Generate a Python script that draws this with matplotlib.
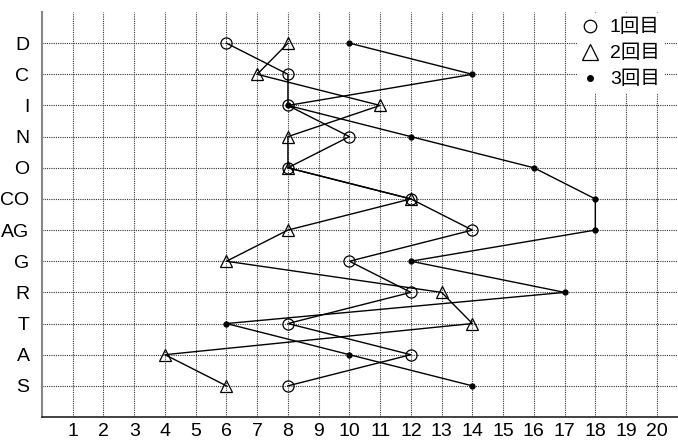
import matplotlib
matplotlib.use("Agg")
import matplotlib.pyplot as plt
from matplotlib.lines import Line2D

plt.rcParams['font.family'] = ['Liberation Sans', 'Noto Sans CJK JP', 'DejaVu Sans']

# categories from top to bottom
categories = ["D", "C", "I", "N", "O", "CO", "AG", "G", "R", "T", "A", "S"]
xticks = list(range(1, 21))

first = [6, 8, 8, 10, 8, 12, 14, 10, 12, 8, 12, 8]     # 1回目
second = [8, 7, 11, 8, 8, 12, 8, 6, 13, 14, 4, 6]      # 2回目
third = [10, 14, 8, 12, 16, 18, 18, 12, 17, 6, 10, 14]  # 3回目

ypos = [len(categories) - i for i in range(len(categories))]

fig = plt.figure(figsize=(6.78, 4.4), dpi=100)
ax = fig.add_axes([42 / 678, 23 / 440, 636 / 678, 405 / 440])

ax.plot(third, ypos, color='black', lw=1.0, marker='o', ms=3.5, zorder=3)
ax.plot(first, ypos, color='black', lw=1.0, marker='o', ms=8,
        mfc='none', mec='black', mew=0.9, zorder=3)
ax.plot(second, ypos, color='black', lw=1.0, marker='^', ms=9,
        mfc='none', mec='black', mew=0.9, zorder=3)

ax.set_xlim(0, 636 / 30.74)
ax.set_ylim(0, 13)
ax.set_xticks(xticks)
ax.set_xticklabels([str(x) for x in xticks], fontsize=14)
ax.set_yticks(ypos)
ax.set_yticklabels(categories, fontsize=14)
ax.tick_params(axis='x', length=0, pad=4)
ax.tick_params(axis='y', length=0, pad=9)

ax.grid(True, linestyle=(0, (1, 1)), color='#333333', lw=0.8)
ax.set_axisbelow(True)
for s in ['top', 'right']:
    ax.spines[s].set_visible(False)
ax.spines['left'].set_color('#888888')
ax.spines['left'].set_linewidth(1.5)
ax.spines['bottom'].set_color('#222222')
ax.spines['bottom'].set_linewidth(1.2)

handles = [
    Line2D([], [], ls='none', marker='o', ms=9, mfc='none', mec='black', mew=0.9),
    Line2D([], [], ls='none', marker='^', ms=11, mfc='none', mec='black', mew=0.9),
    Line2D([], [], ls='none', marker='o', ms=4, color='black'),
]
leg = ax.legend(handles, ["1回目", "2回目", "3回目"], loc='upper right',
                bbox_to_anchor=(0.979, 0.995), fontsize=14, frameon=True,
                handlelength=0.8, handletextpad=0.6, labelspacing=0.43,
                borderpad=0.25, borderaxespad=0)
leg.get_frame().set_facecolor('white')
leg.get_frame().set_edgecolor('none')
leg.get_frame().set_alpha(1)

fig.savefig("out.png", dpi=100)
